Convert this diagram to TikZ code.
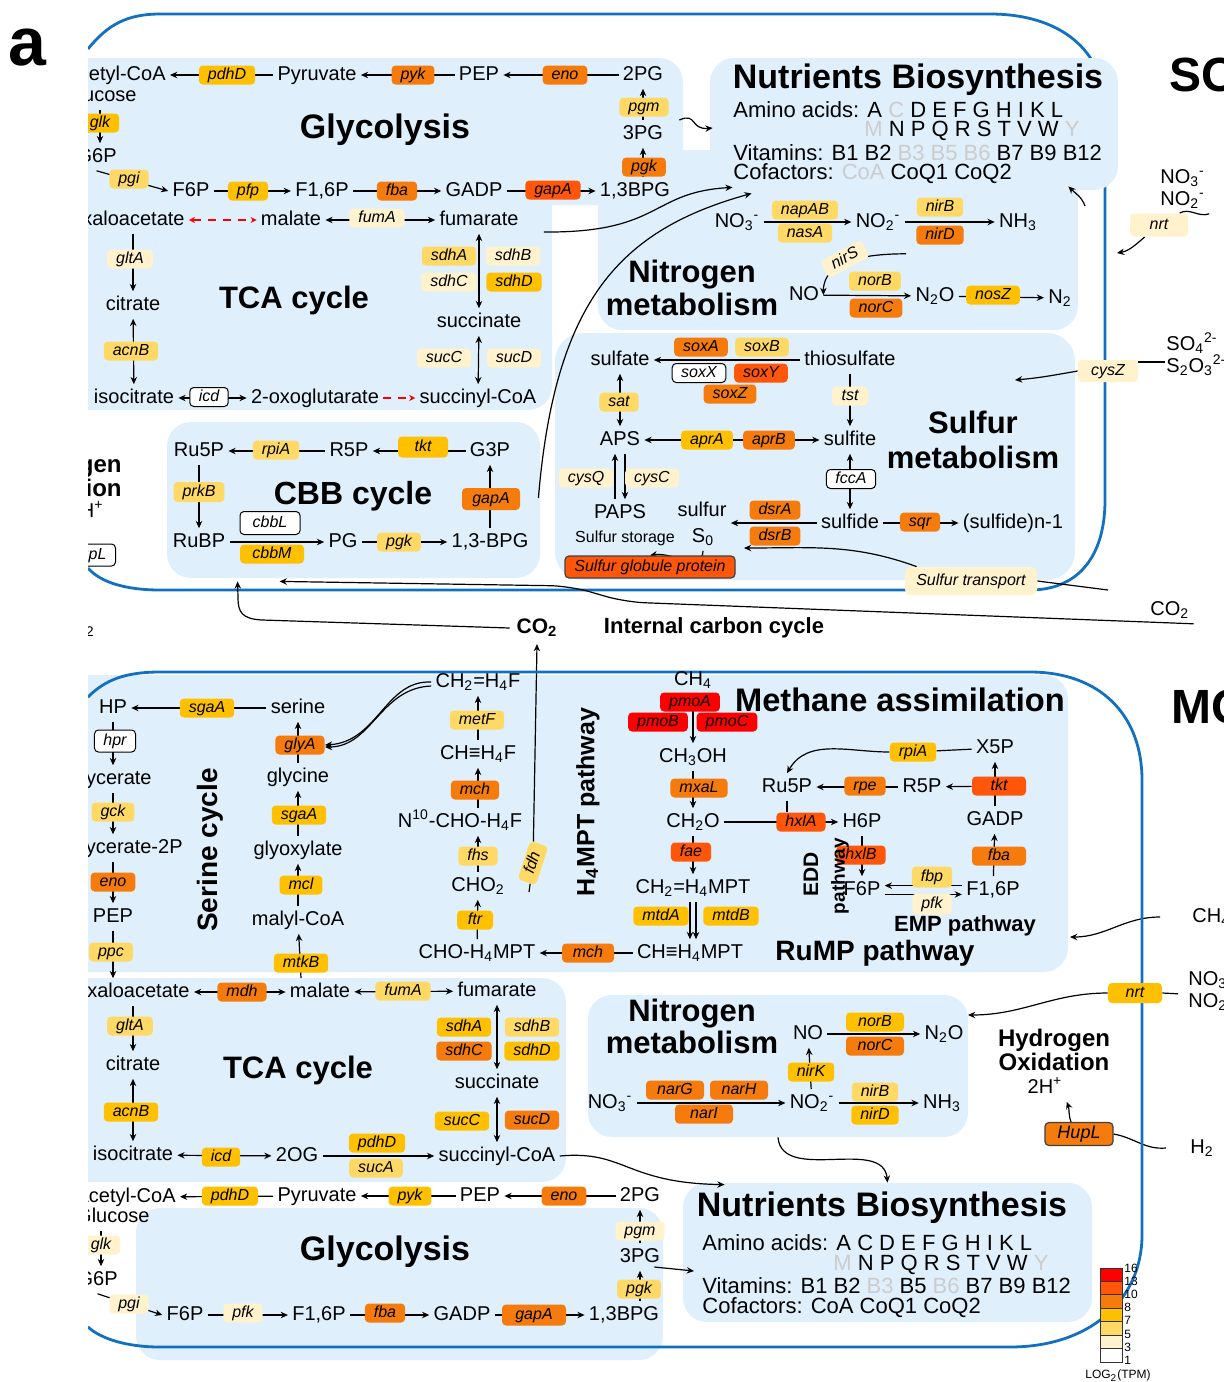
\documentclass[tikz,border=0pt]{standalone}
\usepackage{fontspec}
\setmainfont{Liberation Sans}
\usetikzlibrary{arrows.meta,fit}

\definecolor{cellblue}{HTML}{1270C1}
\definecolor{panelblue}{HTML}{DFEFFC}
\definecolor{lv16}{HTML}{FF0000}
\definecolor{lv13}{HTML}{FF560A}
\definecolor{lv10}{HTML}{F57B0C}
\definecolor{lv8}{HTML}{FFC000}
\definecolor{lv7}{HTML}{FFD966}
\definecolor{lv5}{HTML}{FFF2CC}
\definecolor{absent}{HTML}{CCCCCC}

\newcommand{\subx}[1]{\textsubscript{#1}}
\newcommand{\supx}[1]{\textsuperscript{#1}}
\newcommand{\gy}[1]{\textcolor{absent}{#1}}

\pgfdeclarelayer{cellbg}
\pgfdeclarelayer{panels}
\pgfdeclarelayer{links}
\pgfsetlayers{cellbg,panels,links,main}

\begin{document}
\begin{tikzpicture}[x=0.5pt, y=-0.5pt,
    met/.style={font=\fontsize{10}{12}\selectfont, inner sep=2pt, text height=7.3pt, text depth=2.1pt},
    enz/.style={fill=#1, rounded corners=2pt, inner xsep=4.5pt, inner ysep=0pt,
        minimum width=18pt, minimum height=9.5pt, text height=5.9pt, text depth=1.8pt,
        font=\fontsize{8}{9.5}\selectfont\itshape},
    enzw/.style={enz=white, draw=black, line width=0.5pt},
    ttl/.style={font=\fontsize{16}{16.5}\selectfont\bfseries, align=center, inner sep=1pt},
    nut/.style={font=\fontsize{11}{13}\selectfont, inner sep=1pt, anchor=west},
    panel/.style={fill=panelblue, rounded corners=12pt, inner sep=0pt},
    cellwall/.style={draw=cellblue, line width=1.4pt},
    rx/.style={line width=0.6pt},
    rxa/.style={rx, -{Stealth[length=3.6pt, width=3.2pt]}},
    rxb/.style={rx, {Stealth[length=3.6pt, width=3.2pt]}-{Stealth[length=3.6pt, width=3.2pt]}},
    rxr/.style={rx, red, line width=0.9pt, dash pattern=on 4pt off 3.5pt},
    rxra/.style={rxr, -{Stealth[length=3pt, width=3pt]}},
    rxrb/.style={rxr, {Stealth[length=3pt, width=3pt]}-{Stealth[length=3pt, width=3pt]}}
]
\useasboundingbox (0,0) rectangle (1223,1382);

% Cell wall, upper cell
\begin{pgfonlayer}{cellbg}
\draw[cellwall] (88,49) .. controls (108,24) and (128,14) .. (160,14) -- (990,14)
    .. controls (1060,14) and (1105,50) .. (1105,110) -- (1105,500)
    .. controls (1105,560) and (1075,590) .. (1030,590) -- (160,590)
    .. controls (125,590) and (100,582) .. (88,568);
\end{pgfonlayer}

% Panels
\begin{pgfonlayer}{panels}
\node[panel, fit={(60,58) (683,205)}] (glypS) {};
\node[panel, fit={(60,150) (552,410)}] (tcapS) {};
\node[panel, fit={(598,150) (1078,330)}] (nitpS) {};
\node[panel, fit={(710,58) (1118,190)}] (nutpS) {};
\node[panel, rounded corners=14pt, fit={(555,333) (1075,580)}] (sulpS) {};
\node[panel, fit={(167,422) (540,578)}] (cbbpS) {};
\node[panel, fit={(60,675) (1068,972)}] (serpM) {};
\node[panel, fit={(60,978) (566,1182)}] (tcapM) {};
\node[panel, fit={(588,995) (968,1137)}] (nitpM) {};
\node[panel, fit={(136,1208) (663,1360)}] (glypM) {};
\node[panel, fit={(683,1183) (1092,1322)}] (nutpM) {};
\end{pgfonlayer}

% Glycolysis (upper)
\node[met, anchor=east] (acoaS) at (170,75) {Acetyl-CoA};
\node[enz=lv8] (pdhdS) at (227,75) {pdhD};
\node[met] (pyrS) at (317,75) {Pyruvate};
\node[enz=lv10] (pykS) at (413,75) {pyk};
\node[met] (pepS) at (479,75) {PEP};
\node[enz=lv10] (enoS) at (565,75) {eno};
\node[met] (pg2S) at (643,75) {2PG};
\node[enz=lv7] (pgmS) at (644,107) {pgm};
\node[met] (pg3S) at (643,134) {3PG};
\node[enz=lv10] (pgkS) at (644,167) {pgk};
\node[met] (bpgS) at (635,191) {1,3BPG};
\node[met, anchor=east] (glcS) at (141,96) {Glucose};
\node[enz=lv8] (glkS) at (100,123) {glk};
\node[met, anchor=east] (g6pS) at (121,157) {G6P};
\node[enz=lv7] (pgiS) at (129,179) {pgi};
\node[met] (f6pS) at (191,191) {F6P};
\node[enz=lv8] (pfpS) at (248,191) {pfp};
\node[met] (f16S) at (322,191) {F1,6P};
\node[enz=lv10] (fbaS) at (397,191) {fba};
\node[met] (gadpS) at (474,191) {GADP};
\node[enz=lv13] (gapaS) at (553,190) {gapA};
\node[ttl, font=\fontsize{17}{18}\selectfont\bfseries] (glyS) at (385,130) {Glycolysis};

% TCA cycle (upper)
\node[met, anchor=east] (oaaS) at (189,220) {Oxaloacetate};
\node[met] (malS) at (291,220) {malate};
\node[enz=lv5] (fumaS) at (377,218) {fumA};
\node[met] (fumS) at (479,220) {fumarate};
\node[enz=lv5] (gltaS) at (130,259) {gltA};
\node[met] (citS) at (133,305) {citrate};
\node[enz=lv7] (acnbS) at (131,351) {acnB};
\node[met] (icitS) at (134,398) {isocitrate};
\node[enzw] (icdS) at (209,397) {icd};
\node[met] (ogS) at (315,398) {2-oxoglutarate};
\node[met] (scoaS) at (478,398) {succinyl-CoA};
\node[enz=lv7] (sdhaS) at (449,256) {sdhA};
\node[enz=lv5] (sdhbS) at (513,256) {sdhB};
\node[enz=lv5] (sdhcS) at (449,282) {sdhC};
\node[enz=lv8] (sdhdS) at (514,282) {sdhD};
\node[met] (sucinS) at (479,322) {succinate};
\node[enz=lv5] (succS) at (444,358) {sucC};
\node[enz=lv5] (sucdS) at (514,358) {sucD};
\node[ttl, font=\fontsize{15.5}{16}\selectfont\bfseries] (tcaS) at (294,300) {TCA cycle};

% Nutrients (upper)
\node[ttl, font=\fontsize{17}{18}\selectfont\bfseries] (nutS) at (918,80) {Nutrients Biosynthesis};
\node[nut] (aa1S) at (731,110) {Amino acids: A \gy{C} D E F G H I K L};
\node[nut] (aa2S) at (862,131) {\gy{M} N P Q R S T V W \gy{Y}};
\node[nut] (vitS) at (731,153) {Vitamins: B1 B2 \gy{B3 B5 B6} B7 B9 B12};
\node[nut] (cofS) at (731,174) {Cofactors: \gy{CoA} CoQ1 CoQ2};

% Nitrogen metabolism (upper)
\node[met] (no3S) at (737,222) {NO\subx{3}\supx{-}};
\node[enz=lv7] (napS) at (805,210) {napAB};
\node[enz=lv7] (nasS) at (805,233) {nasA};
\node[met] (no2S) at (878,222) {NO\subx{2}\supx{-}};
\node[enz=lv7] (nirbS) at (940,207) {nirB};
\node[enz=lv10] (nirdS) at (940,235) {nirD};
\node[met] (nh3S) at (1018,222) {NH\subx{3}};
\node[met] (noS) at (804,295) {NO};
\node[enz=lv7] (norbS) at (875,281) {norB};
\node[enz=lv10] (norcS) at (876,308) {norC};
\node[met] (n2oS) at (935,296) {N\subx{2}O};
\node[enz=lv8] (noszS) at (993,295) {nosZ};
\node[met] (n2S) at (1060,298) {N\subx{2}};
\node[ttl, font=\fontsize{15.5}{16.5}\selectfont\bfseries] (nitS) at (692,288) {Nitrogen\\metabolism};

% Sulfur metabolism
\node[met] (sulfS) at (620,360) {sulfate};
\node[enz=lv10] (soxaS) at (701,347) {soxA};
\node[enz=lv7] (soxbS) at (762,347) {soxB};
\node[enzw] (soxxS) at (699,373) {soxX};
\node[enz=lv13] (soxyS) at (761,373) {soxY};
\node[enz=lv10] (soxzS) at (730,394) {soxZ};
\node[met] (thioS) at (850,360) {thiosulfate};
\node[enz=lv7] (satS) at (619,402) {sat};
\node[enz=lv5] (tstS) at (850,396) {tst};
\node[met] (apsS) at (620,440) {APS};
\node[enz=lv8] (apraS) at (707,440) {aprA};
\node[enz=lv10] (aprbS) at (769,440) {aprB};
\node[met] (sulfiS) at (850,440) {sulfite};
\node[enz=lv5] (cysqS) at (586,478) {cysQ};
\node[enz=lv5] (cyscS) at (652,478) {cysC};
\node[enzw] (fccaS) at (851,479) {fccA};
\node[met] (papsS) at (620,513) {PAPS};
\node[met] (sulfurS) at (702,511) {sulfur};
\node[met] (s0S) at (703,537) {S\subx{0}};
\node[font=\fontsize{8}{9}\selectfont, inner sep=1pt] (storS) at (625,538) {Sulfur storage};
\node[met] (sulfdS) at (850,523) {sulfide};
\node[enz=lv10] (dsraS) at (775,510) {dsrA};
\node[enz=lv10] (dsrbS) at (775,536) {dsrB};
\node[enz=lv10] (sqrS) at (920,522) {sqr};
\node[met] (polyS) at (1013,523) {(sulfide)n-1};
\node[enz=lv13, draw=black!75, line width=0.6pt, minimum width=85pt, minimum height=11pt] (sgpS) at (650,567) {Sulfur globule protein};
\node[enz=lv5, rounded corners=3pt, minimum width=66pt, minimum height=14pt] (stS) at (971,581) {Sulfur transport};
\node[ttl, font=\fontsize{15.5}{17.5}\selectfont\bfseries] (sulT) at (973,440) {Sulfur\\metabolism};

% CBB cycle
\node[met] (ru5pC) at (199,451) {Ru5P};
\node[enz=lv7] (rpiaC) at (276,450) {rpiA};
\node[met] (r5pC) at (349,451) {R5P};
\node[enz=lv8, minimum width=25pt, minimum height=10.5pt] (tktC) at (423,447) {tkt};
\node[met] (g3pC) at (490,451) {G3P};
\node[enz=lv7, minimum height=10pt] (prkbC) at (199,492) {prkB};
\node[met] (rubpC) at (199,542) {RuBP};
\node[enzw, minimum width=30pt, minimum height=11.5pt] (cbblC) at (270,523) {cbbL};
\node[enz=lv8, minimum width=32pt] (cbbmC) at (272,554) {cbbM};
\node[met] (pgC) at (343,542) {PG};
\node[enz=lv7] (pgkC) at (399,542) {pgk};
\node[met] (bpgC) at (490,542) {1,3-BPG};
\node[enz=lv10, minimum width=29pt, minimum height=11pt] (gapaC) at (491,499) {gapA};
\node[ttl] (cbbT) at (353,496) {CBB cycle};

% Outside, upper cell
\node[font=\fontsize{24}{26}\selectfont\bfseries, anchor=west] (sobT) at (1162,75) {SOB};
\node[met, anchor=west] (no3R) at (1156,178) {NO\subx{3}\supx{-}};
\node[met, anchor=west] (no2R) at (1156,200) {NO\subx{2}\supx{-}};
\node[enz=lv5, minimum width=29pt, minimum height=11.5pt] (nrtS) at (1159,225) {nrt};
\node[met, anchor=west] (so4R) at (1162,345) {SO\subx{4}\supx{2-}};
\node[met, anchor=west] (s2o3R) at (1162,367) {S\subx{2}O\subx{3}\supx{2-}};
\node[enz=lv5, minimum width=30pt, minimum height=11pt] (cyszS) at (1108,371) {cysZ};
\node[met, anchor=west] (co2R) at (1146,610) {CO\subx{2}};
\node[font=\fontsize{10.5}{12}\selectfont\bfseries] (co2M) at (537,628) {CO\subx{2}};
\node[font=\fontsize{11}{12}\selectfont\bfseries] (iccT) at (714,628) {Internal carbon cycle};
\node[font=\fontsize{12}{10.5}\selectfont\bfseries, anchor=east, align=right, inner sep=1pt] (hydL) at (124,476) {Hydrogen\\Oxidation};
\node[met, anchor=east] (hpL) at (108,512) {2H\supx{+}};
\node[enzw, anchor=east, minimum height=11pt] (huplL) at (116,555) {HupL};
\node[met, anchor=east] (co2L) at (99,628) {CO\subx{2}};
\coordinate (nrtInS) at (1117,253);
\coordinate (so4Tick) at (1165,362);
\coordinate (cysInS) at (1015,380);
\coordinate (sIn) at (744,548);
\coordinate (stEnd) at (1108,590);
\coordinate (nitOutS) at (1085,206);

% Serine cycle
\node[met] (hpM) at (113,708) {HP};
\node[enz=lv8] (sgaa1M) at (207,708) {sgaA};
\node[met] (serM) at (298,708) {serine};
\node[enzw, minimum height=11pt] (hprM) at (115,741) {hpr};
\node[met, anchor=east] (glyM) at (156,779) {Glycerate};
\node[enz=lv7] (gckM) at (113,812) {gck};
\node[met, anchor=east] (gly2pM) at (187,848) {Glycerate-2P};
\node[enz=lv10] (eno1M) at (113,882) {eno};
\node[met] (pep1M) at (113,917) {PEP};
\node[enz=lv7] (ppcM) at (111,952) {ppc};
\node[enz=lv10] (glyaM) at (300,745) {glyA};
\node[met] (glycM) at (298,777) {glycine};
\node[enz=lv8] (sgaa2M) at (299,815) {sgaA};
\node[met] (glxM) at (298,850) {glyoxylate};
\node[enz=lv8] (mclM) at (301,885) {mcl};
\node[met] (malyM) at (298,920) {malyl-CoA};
\node[enz=lv8] (mtkbM) at (301,963) {mtkB};
\node[ttl, rotate=90, font=\fontsize{14}{15}\selectfont\bfseries] (serT) at (210,850) {Serine cycle};

% H4MPT pathway
\node[met] (ch2h4fM) at (478,682) {CH\subx{2}=H\subx{4}F};
\node[enz=lv7] (metfM) at (477,720) {metF};
\node[met] (chh4fM) at (478,754) {CH≡H\subx{4}F};
\node[enz=lv10] (mch1M) at (475,790) {mch};
\node[met] (n10M) at (460,822) {N\supx{10}-CHO-H\subx{4}F};
\node[enz=lv7] (fhsM) at (478,856) {fhs};
\node[met] (cho2M) at (478,886) {CHO\subx{2}};
\node[enz=lv8] (ftrM) at (475,920) {ftr};
\node[met] (choh4mM) at (477,953) {CHO-H\subx{4}MPT};
\node[enz=lv10, minimum width=26pt] (mch2M) at (588,953) {mch};
\node[met] (chh4mM) at (690,953) {CH≡H\subx{4}MPT};
\node[enz=lv7, rotate=72] (fdhM) at (533,863) {fdh};
\node[ttl, rotate=90, font=\fontsize{12.5}{13}\selectfont\bfseries] (h4mT) at (588,802) {H\subx{4}MPT pathway};

% Methane assimilation
\node[met] (ch4M) at (693,680) {CH\subx{4}};
\node[enz=lv16] (pmoaM) at (690,702) {pmoA};
\node[enz=lv16] (pmobM) at (658,722) {pmoB};
\node[enz=lv16] (pmocM) at (727,722) {pmoC};
\node[met] (ch3ohM) at (693,757) {CH\subx{3}OH};
\node[enz=lv10] (mxalM) at (699,788) {mxaL};
\node[met] (ch2oM) at (693,822) {CH\subx{2}O};
\node[enz=lv13] (faeM) at (691,852) {fae};
\node[met] (ch2h4mM) at (693,888) {CH\subx{2}=H\subx{4}MPT};
\node[enz=lv8] (mtdaM) at (661,916) {mtdA};
\node[enz=lv8] (mtdbM) at (731,916) {mtdB};
\node[ttl, font=\fontsize{16.3}{17}\selectfont\bfseries] (methT) at (900,700) {Methane assimilation};

% RuMP pathway
\node[met] (x5pM) at (995,748) {X5P};
\node[enz=lv8] (rpiaM) at (913,752) {rpiA};
\node[met] (ru5pM) at (787,787) {Ru5P};
\node[enz=lv10] (rpeM) at (865,786) {rpe};
\node[met] (r5pM) at (922,787) {R5P};
\node[enz=lv13, minimum width=27pt] (tktM) at (999,786) {tkt};
\node[met] (gadpM) at (995,820) {GADP};
\node[enz=lv10, minimum width=27pt] (fbaM) at (999,856) {fba};
\node[met] (f16M) at (993,890) {F1,6P};
\node[enz=lv7, minimum height=10.5pt] (fbpM) at (932,877) {fbp};
\node[enz=lv5, minimum height=10.5pt] (pfkM) at (932,904) {pfk};
\node[met] (f6pM) at (862,890) {F6P};
\node[met] (h6pM) at (862,822) {H6P};
\node[enz=lv13] (hxlaM) at (801,822) {hxlA};
\node[enz=lv13] (hxlbM) at (861,855) {hxlB};
\node[font=\fontsize{10.5}{11}\selectfont\bfseries, rotate=90] (eddT) at (811,874) {EDD};
\node[font=\fontsize{9.5}{10}\selectfont\bfseries, rotate=90] (pathT) at (840,876) {pathway};
\node[font=\fontsize{11}{12}\selectfont\bfseries] (empT) at (965,926) {EMP pathway};
\node[font=\fontsize{14}{15}\selectfont\bfseries] (rumpT) at (875,953) {RuMP pathway};

% TCA cycle (lower)
\node[met, anchor=east] (oaaM) at (194,992) {Oxaloacetate};
\node[enz=lv10] (mdhM) at (242,992) {mdh};
\node[met] (malM) at (320,992) {malate};
\node[enz=lv7] (fumaM) at (403,991) {fumA};
\node[met] (fumM) at (497,991) {fumarate};
\node[enz=lv7] (gltaM) at (130,1026) {gltA};
\node[met] (citM) at (133,1065) {citrate};
\node[enz=lv8] (acnbM) at (131,1112) {acnB};
\node[met] (icitM) at (133,1155) {isocitrate};
\node[enz=lv8] (icdM) at (221,1157) {icd};
\node[met] (ogM) at (297,1156) {2OG};
\node[enz=lv8] (pdhdM) at (377,1143) {pdhD};
\node[enz=lv7] (sucaM) at (376,1168) {sucA};
\node[met] (scoaM) at (497,1156) {succinyl-CoA};
\node[enz=lv8] (sdhaM) at (464,1027) {sdhA};
\node[enz=lv7] (sdhbM) at (532,1027) {sdhB};
\node[enz=lv10] (sdhcM) at (464,1051) {sdhC};
\node[enz=lv8] (sdhdM) at (532,1051) {sdhD};
\node[met] (sucinM) at (497,1083) {succinate};
\node[enz=lv8] (succM) at (462,1121) {sucC};
\node[enz=lv10] (sucdM) at (532,1120) {sucD};
\node[ttl, font=\fontsize{15.5}{16}\selectfont\bfseries] (tcaM) at (298,1070) {TCA cycle};

% Glycolysis (lower)
\node[met, anchor=east] (acoaM) at (180,1197) {Acetyl-CoA};
\node[enz=lv8] (pdhd2M) at (230,1196) {pdhD};
\node[met] (pyrM) at (317,1196) {Pyruvate};
\node[enz=lv8] (pykM) at (410,1196) {pyk};
\node[met] (pep2M) at (480,1196) {PEP};
\node[enz=lv10] (eno2M) at (564,1196) {eno};
\node[met] (pg2M) at (640,1196) {2PG};
\node[enz=lv5] (pgmM) at (640,1231) {pgm};
\node[met] (pg3M) at (640,1257) {3PG};
\node[enz=lv7] (pgkM) at (639,1289) {pgk};
\node[met] (bpgM) at (624,1315) {1,3BPG};
\node[met, anchor=east] (glcM) at (154,1217) {Glucose};
\node[enz=lv5] (glkM) at (101,1245) {glk};
\node[met, anchor=east] (g6pM) at (122,1280) {G6P};
\node[enz=lv5] (pgiM) at (129,1304) {pgi};
\node[met] (f6p2M) at (185,1315) {F6P};
\node[enz=lv5] (pfk2M) at (243,1313) {pfk};
\node[met] (f162M) at (319,1315) {F1,6P};
\node[enz=lv10] (fba2M) at (385,1313) {fba};
\node[met] (gadp2M) at (462,1315) {GADP};
\node[enz=lv10, minimum width=32pt, minimum height=10.5pt] (gapa2M) at (534,1315) {gapA};
\node[ttl, font=\fontsize{17}{18}\selectfont\bfseries] (gly2T) at (385,1252) {Glycolysis};

% Nitrogen metabolism (lower)
\node[met] (no3M) at (610,1103) {NO\subx{3}\supx{-}};
\node[enz=lv10, minimum width=29pt] (nargM) at (675,1090) {narG};
\node[enz=lv10, minimum width=29pt] (narhM) at (739,1090) {narH};
\node[enz=lv10, minimum width=29pt] (nariM) at (704,1114) {narI};
\node[met] (no2M) at (812,1103) {NO\subx{2}\supx{-}};
\node[enz=lv8] (nirkM) at (811,1072) {nirK};
\node[met] (noM) at (808,1034) {NO};
\node[enz=lv8, minimum width=29pt] (norbM) at (875,1022) {norB};
\node[enz=lv10, minimum width=29pt] (norcM) at (875,1046) {norC};
\node[met] (n2oM) at (944,1034) {N\subx{2}O};
\node[enz=lv7] (nirbM) at (875,1092) {nirB};
\node[enz=lv8] (nirdM) at (875,1115) {nirD};
\node[met] (nh3M) at (942,1103) {NH\subx{3}};
\node[ttl, font=\fontsize{15.5}{16}\selectfont\bfseries] (nit2T) at (692,1026) {Nitrogen\\metabolism};

% Hydrogen oxidation
\node[font=\fontsize{12}{12}\selectfont\bfseries, align=center] (hydT) at (1054,1050) {Hydrogen\\Oxidation};
\node[met] (h2pM) at (1045,1088) {2H\supx{+}};
\node[enz=lv10, draw=black!75, line width=0.6pt, minimum width=34pt, minimum height=11.5pt,
    font=\fontsize{9}{10}\selectfont\itshape] (huplM) at (1079,1134) {HupL};
\node[met, anchor=west] (h2M) at (1186,1148) {H\subx{2}};

% Nutrients (lower)
\node[ttl, font=\fontsize{17}{18}\selectfont\bfseries] (nut2T) at (882,1208) {Nutrients Biosynthesis};
\node[nut] (aa1M) at (700,1243) {Amino acids: A C D E F G H I K L};
\node[nut] (aa2M) at (831,1265) {\gy{M} N P Q R S T V W \gy{Y}};
\node[nut] (vitM) at (700,1286) {Vitamins: B1 B2 \gy{B3} B5 \gy{B6} B7 B9 B12};
\node[nut] (cofM) at (700,1308) {Cofactors: CoA CoQ1 CoQ2};

% Outside, lower cell
\node[font=\fontsize{24}{26}\selectfont\bfseries, anchor=west] (mobT) at (1164,707) {MOB};
\node[met, anchor=west] (ch4R) at (1188,917) {CH\subx{4}};
\node[enz=lv8, minimum width=27pt, minimum height=10pt] (nrtM) at (1135,993) {nrt};
\node[met, anchor=west] (no3R2) at (1184,980) {NO\subx{3}\supx{-}};
\node[met, anchor=west] (no2R2) at (1184,1002) {NO\subx{2}\supx{-}};
\coordinate (ch4In) at (1070,937);
\coordinate (nrtInM) at (968,1015);
\coordinate (nutIn3) at (694,1271);

% Legend
\foreach \c [count=\i] in {lv16,lv13,lv10,lv8,lv7,lv5,white} {
    \node[draw=black!80, fill=\c, line width=0.4pt, minimum width=11pt, minimum height=6.7pt, inner sep=0pt]
        (leg\i) at (1111,{1268+13.43*(\i-0.5)}) {};
}
\foreach \v [count=\i] in {16,13,10,8,7,5,3,1} {
    \node[font=\fontsize{6}{7}\selectfont, anchor=west, inner sep=0pt] (legv\i) at (1124,{1268+13.2*(\i-1)}) {\v};
}
\node[font=\fontsize{6}{7}\selectfont] (legT) at (1118,1376) {LOG\subx{2}(TPM)};

% nirS sits on its curve
\node[enz=lv5, rotate=28] (nirsS) at (845,259) {nirS};

% Reactions
\begin{pgfonlayer}{links}
% upper glycolysis
\draw[rxa] (pg2S) -- (pepS);
\draw[rxa] (pepS) -- (pyrS);
\draw[rxa] (pyrS) -- (acoaS);
\draw[rxa] (pg3S) -- (pg2S);
\draw[rxa] (bpgS.north -| pg3S) -- (pg3S);
\draw[rxa] (glcS.south -| glkS) -- (g6pS.north -| glkS);
\draw[rxa] (g6pS.south) -- (f6pS.west);
\draw[rxa] (f6pS) -- (f16S);
\draw[rxa] (f16S) -- (gadpS);
\draw[rxa] (gadpS) -- (bpgS);
% upper TCA
\draw[rxrb] (oaaS) -- (malS);
\draw[rxb] (malS) -- (fumS);
\draw[rxa] (oaaS.south -| citS) -- (citS);
\draw[rxb] (citS) -- (icitS);
\draw[rxb] (icitS) -- (ogS);
\draw[rxra] (ogS) -- (scoaS);
\draw[rxb] (fumS) -- (sucinS);
\draw[rxb] (sucinS) -- (scoaS);
% upper nitrogen
\draw[rxa] (no3S) -- (no2S);
\draw[rxa] (no2S) -- (nh3S);
\draw[rxa] ([shift={(28,18)}]no2S.south) to[out=180, in=90] (noS.east);
\draw[rxa] (noS) -- (n2oS);
\draw[rxa] (n2oS) -- (n2S);
% sulfur
\draw[rxa] (thioS) -- (sulfS);
\draw[rxb] (sulfS) -- (apsS);
\draw[rxa] (thioS) -- (sulfiS);
\draw[rxb] (apsS) -- (sulfiS);
\draw[rxa] ([xshift=-2.5pt]papsS.north) -- ([xshift=-2.5pt]apsS.south);
\draw[rxa] ([xshift=2.5pt]apsS.south) -- ([xshift=2.5pt]papsS.north);
\draw[rxb] (sulfiS) -- (sulfdS);
\draw[rxa] (sulfdS) -- (sulfdS -| sulfurS.east);
\draw[rxa] (sulfdS) -- (polyS);
\draw[rxa] (s0S.south) to[out=-90, in=10] (sgpS.north);
\draw[rxa] ([xshift=6pt]stS.north west) to[out=160, in=0] (sIn);
\draw[rx] (stS.east) -- (stEnd);
% CBB
\draw[rxa] (g3pC) -- (r5pC);
\draw[rxa] (r5pC) -- (ru5pC);
\draw[rxa] (ru5pC) -- (rubpC);
\draw[rxa] (rubpC) -- (pgC);
\draw[rxa] (pgC) -- (bpgC);
\draw[rxa] (bpgC) -- (g3pC);
% transport and exchange, upper cell
\draw[rxa] ([shift={(12,-14)}]pg3S.east) .. controls (697,112) and (690,130) .. ([shift={(3,4)}]nutpS.west);
\draw[rxa] ([shift={(21,12)}]fumS.east) .. controls (662,233) and (650,192) .. ([shift={(23,-3)}]nutpS.south west);
\draw[rxa] ([shift={(-2,-2)}]cbbpS.east) .. controls (555,300) and (620,230) .. ([shift={(42,3)}]nutpS.south west);
\draw[rxa] (nitOutS) to[out=110, in=-45] ([shift={(-50,-4)}]nutpS.south east);
\draw[rxa] (no2R.south east) to[out=200, in=30] (nrtS) to[out=220, in=10] (nrtInS);
\draw[rx] (so4Tick) -- (cyszS.east |- so4Tick);
\draw[rxa] (cyszS.west) to[out=190, in=5] (cysInS);
\draw[rxa, rounded corners=10pt] (co2R.south east) -- (625,602) -- (570,586) -- ([shift={(113,3)}]cbbpS.south west);
\draw[rxa] (co2M.west) -- (262,620) .. controls (242,619) and (238,612) .. (238,598) -- ([shift={(71,3)}]cbbpS.south west);
\draw[rxa] ([shift={(20,6)}]cho2M.east) -- (fdhM) -- (co2M.south);
% serine cycle
\draw[rxa] (serM) -- (hpM);
\draw[rxa] (hpM) -- (hpM |- glyM.north);
\draw[rxa] (glyM.south -| hpM) -- (gly2pM.north -| hpM);
\draw[rxa] (gly2pM.south -| hpM) -- (pep1M);
\draw[rxa] (pep1M) -- (pep1M |- oaaM.north);
\draw[rxa] (malM.north -| mtkbM) -- (malyM);
\draw[rxa] (malyM) -- (glxM);
\draw[rxa] (glxM) -- (glycM);
\draw[rxa] (glycM) -- (serM);
\draw[rxa] (ch2h4fM.west) .. controls (385,680) and (378,742) .. (glyaM.east);
\draw[rxa] ([yshift=-2pt]ch2h4fM.west) .. controls (380,688) and (372,747) .. ([yshift=-1pt]glyaM.east);
% H4MPT
\draw[rxa] (choh4mM) -- (cho2M);
\draw[rxa] (cho2M) -- (cho2M |- n10M.south);
\draw[rxa] (n10M.north -| chh4fM) -- (chh4fM);
\draw[rxa] (chh4fM) -- (ch2h4fM);
\draw[rxa] (chh4mM) -- (choh4mM);
% methane
\draw[rxa] (ch4M) -- (ch3ohM);
\draw[rxa] (ch3ohM) -- (ch2oM);
\draw[rxa] (ch2oM) -- (ch2h4mM);
\draw[rxa] ([xshift=-1.5pt]ch2h4mM.south) -- ([xshift=-1.5pt]ch2h4mM.south |- chh4mM.north);
\draw[rxa] ([xshift=1.5pt]ch2h4mM.south) -- ([xshift=1.5pt]ch2h4mM.south |- chh4mM.north);
% RuMP
\draw[rxa] (x5pM) -- (rpiaM) to[out=180, in=60] (ru5pM.north);
\draw[rxa] (r5pM) -- (ru5pM);
\draw[rxa] (gadpM) -- (x5pM);
\draw[rxa] (tktM) -- (r5pM);
\draw[rxa] (f16M) -- (gadpM);
\draw[rxa] ([yshift=2.2pt]f16M.west) -- ([yshift=2.2pt]f6pM.east);
\draw[rxa] ([yshift=-2.2pt]f6pM.east) -- ([yshift=-2.2pt]f16M.west);
\draw[rxa] (ch2oM) -- (h6pM);
\draw[rx] (ru5pM) -- (ru5pM |- hxlaM.north);
\draw[rxa] (h6pM) -- (f6pM);
% lower TCA
\draw[rxb] (oaaM) -- (malM);
\draw[rxb] (malM) -- (fumM);
\draw[rxa] (oaaM.south -| citM) -- (citM);
\draw[rxb] (citM) -- (icitM);
\draw[rxb] (icitM) -- (ogM);
\draw[rxa] (ogM) -- (scoaM);
\draw[rxb] (fumM) -- (sucinM);
\draw[rxb] (sucinM) -- (scoaM);
% lower glycolysis
\draw[rxa] (pg2M) -- (pep2M);
\draw[rxa] (pep2M) -- (pyrM);
\draw[rxa] (pyrM) -- (acoaM);
\draw[rxa] (pg3M) -- (pg2M);
\draw[rxa] (bpgM.north -| pg3M) -- (pg3M);
\draw[rxa] (glcM.south -| glkM) -- (g6pM.north -| glkM);
\draw[rxa] (g6pM.south) -- (f6p2M.west);
\draw[rxa] (f6p2M) -- (f162M);
\draw[rxa] (f162M) -- (gadp2M);
\draw[rxa] (gadp2M) -- (bpgM);
% lower nitrogen
\draw[rxa] (no3M) -- (no2M);
\draw[rxa] (no2M) -- (noM);
\draw[rxa] (noM) -- (n2oM);
\draw[rxa] (no2M) -- (nh3M);
% hydrogen
\draw[rxa] ([xshift=-4pt]huplM.north) to[out=110, in=-70] (h2pM.south east);
\draw[rx] ([xshift=-10pt]h2M.west) to[out=185, in=-10] (huplM.east);
% transport and exchange, lower cell
\draw[rxa] (scoaM.east) .. controls (625,1150) and (625,1183) .. ([shift={(42,2)}]nutpM.north west);
\draw[rxa] (nitpM.south) to[out=-85, in=95] (nutpM.north);
\draw[rxa] ([shift={(-10,10)}]pg3M.east) -- (nutIn3);
\draw[rxa] ([xshift=-14pt]ch4R.west) to[out=180, in=0] (ch4In);
\draw[rx] (nrtM.east) -- ([xshift=-3pt]no3R2.south west);
\draw[rxa] (nrtM.west) to[out=180, in=0] (nrtInM);
% cell wall, lower cell
\draw[cellwall] (88,697) .. controls (105,680) and (125,672) .. (160,672) -- (1030,672)
    .. controls (1100,672) and (1142,715) .. (1142,780) -- (1142,1235)
    .. controls (1142,1300) and (1090,1347) .. (1010,1347) -- (160,1347)
    .. controls (125,1347) and (100,1338) .. (88,1327);
\end{pgfonlayer}

% left margin of the crop
\fill[white] (0,0) rectangle (88,1382);
\node[font=\fontsize{34}{36}\selectfont\bfseries] (lblA) at (27,48) {a};
\end{tikzpicture}
\end{document}
